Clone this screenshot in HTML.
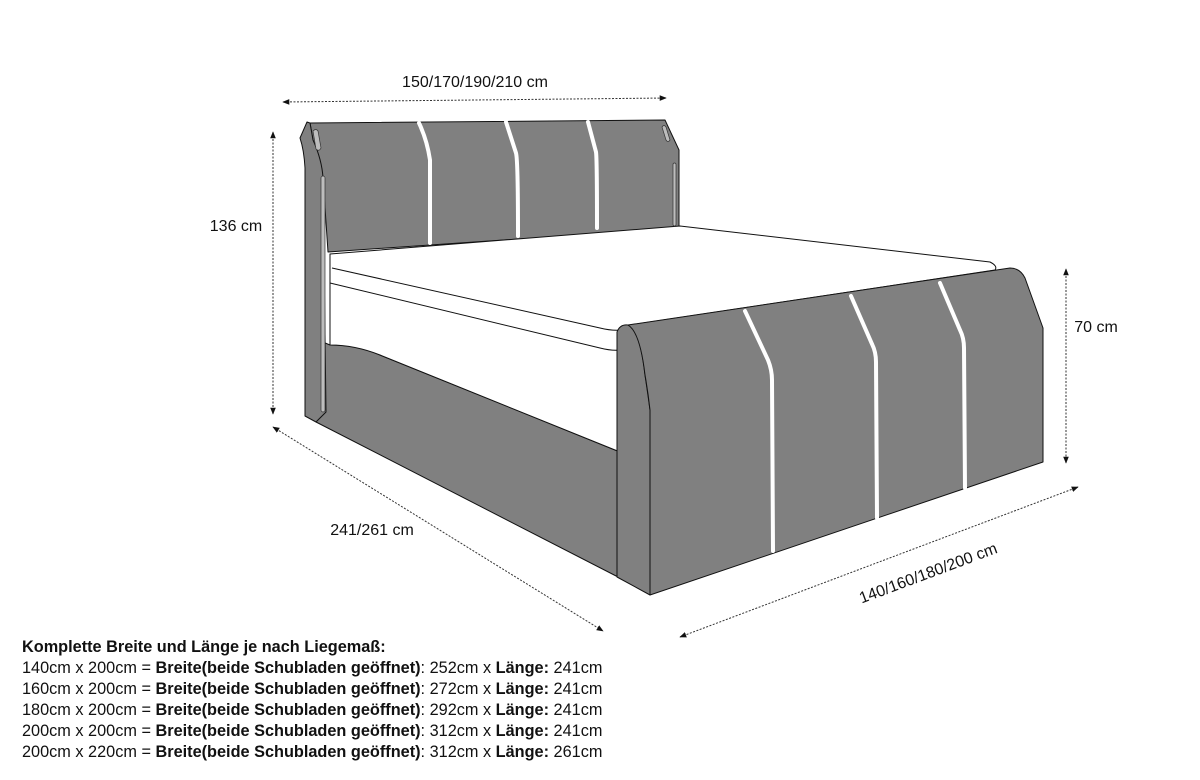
<!DOCTYPE html>
<html><head><meta charset="utf-8"><style>
html,body{margin:0;padding:0;background:#fff;}
body{width:1200px;height:780px;position:relative;overflow:hidden;font-family:"Liberation Sans",sans-serif;color:#111;}
.t{position:absolute;left:22px;font-size:16.3px;line-height:21px;white-space:nowrap;}
b{font-weight:bold;}
</style></head><body>
<svg width="1200" height="780" viewBox="0 0 1200 780" style="position:absolute;left:0;top:0">
<defs>
<marker id="a" viewBox="0 0 10 10" refX="9" refY="5" markerWidth="7" markerHeight="7" orient="auto-start-reverse"><path d="M0,1 L10,5 L0,9z" fill="#111"/></marker>
</defs>
<g stroke="#111" stroke-width="1" fill="#808080" stroke-linejoin="round">
<path d="M318,340 L330,345 Q360,345 380,355 L620,452 L620,578 L316,422 Z"/>
<path d="M310,123 L665,120 L679,150 L679,228 L328,252 L323,178 L313,140 Z"/>
<path d="M307,122 L310,123 L313,140 Q322,160 323,178 L326,412 L316,422 L305,416 L305,168 Q304,150 300,138 Z"/>
<path d="M330,254 L680,226 L990,262 Q998,266 995,270 L630,325 L620,452 L380,355 Q355,345 330,345 Z" fill="#fff"/>
<path d="M332,268 L600,328 Q612,331 622,330" fill="none"/>
<path d="M330,283 L600,348 Q612,351 620,350" fill="none"/>
<path d="M617,332 Q620,324 628,325 Q640,330 645,375 Q648,395 650,410 L650,595 L617,577 Z"/>
<path d="M628,325 L1010,268 Q1020,268 1025,278 L1043,328 L1043,462 L650,595 L650,410 Q648,392 645,375 Q640,332 628,325 Z"/>
</g>
<g stroke="#fff" stroke-width="4" fill="none" stroke-linecap="round">
<path d="M419,123 Q427,140 430,160 L430,243"/>
<path d="M506,122 L516,153 Q518,160 518,236"/>
<path d="M588,122 L596,152 Q597,158 597,228"/>
<path d="M745,311 L768,360 Q772,370 772,380 L773,551"/>
<path d="M851,296 L872,344 Q876,352 876,362 L877,518"/>
<path d="M940,283 L960,330 Q964,338 964,348 L965,488"/>
</g>
<g stroke="#333" stroke-width="0.7" fill="#bdbdbd">
<path d="M313,131 Q316,128 318,131 L321,148 Q319,152 316,149 Z"/>
<rect x="321" y="176" width="4" height="236" rx="2"/>
<path d="M662,127 Q664,124 666,127 L670,140 Q668,143 666,140 Z"/>
<rect x="673" y="163" width="3" height="63" rx="1.5"/>
</g>
<g stroke="#333" stroke-width="1" stroke-dasharray="2,1.5" fill="none" marker-start="url(#a)" marker-end="url(#a)">
<line x1="283" y1="102" x2="666" y2="98"/>
<line x1="273" y1="132" x2="273" y2="414"/>
<line x1="273" y1="427" x2="603" y2="631"/>
<line x1="1066" y1="269" x2="1066" y2="463"/>
<line x1="680" y1="637" x2="1078" y2="487"/>
</g>
<g font-family="Liberation Sans,sans-serif" font-size="16" fill="#111">
<text x="475" y="87" text-anchor="middle">150/170/190/210 cm</text>
<text x="236" y="231" text-anchor="middle">136 cm</text>
<text x="372" y="535" text-anchor="middle">241/261 cm</text>
<text x="1096" y="332" text-anchor="middle">70 cm</text>
<text x="930" y="578" text-anchor="middle" transform="rotate(-20.5 930 578)">140/160/180/200 cm</text>
</g>
</svg>
<div class="t" style="top:637px"><b>Komplette Breite und Länge je nach Liegemaß:</b></div>
<div class="t" style="top:658px">140cm x 200cm = <b>Breite(beide Schubladen geöffnet)</b>: 252cm x <b>Länge:</b> 241cm</div>
<div class="t" style="top:679px">160cm x 200cm = <b>Breite(beide Schubladen geöffnet)</b>: 272cm x <b>Länge:</b> 241cm</div>
<div class="t" style="top:700px">180cm x 200cm = <b>Breite(beide Schubladen geöffnet)</b>: 292cm x <b>Länge:</b> 241cm</div>
<div class="t" style="top:721px">200cm x 200cm = <b>Breite(beide Schubladen geöffnet)</b>: 312cm x <b>Länge:</b> 241cm</div>
<div class="t" style="top:742px">200cm x 220cm = <b>Breite(beide Schubladen geöffnet)</b>: 312cm x <b>Länge:</b> 261cm</div>
</body></html>
